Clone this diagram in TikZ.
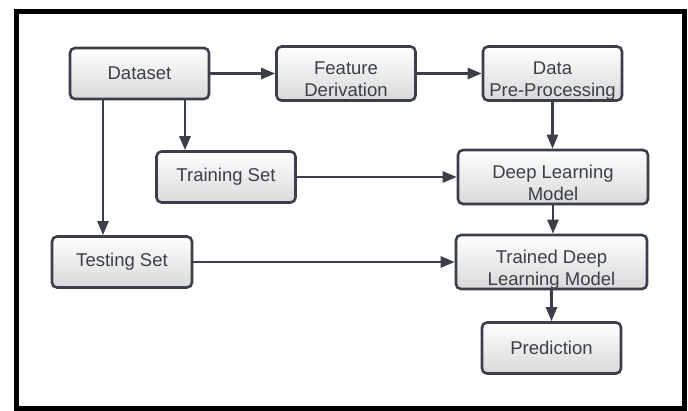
\documentclass[tikz,border=0pt]{standalone}
\usepackage{fontspec}
\setmainfont{Liberation Sans}
\usepackage{xcolor}
\usepackage{tikz}
\usetikzlibrary{arrows.meta, positioning}

\definecolor{ink}{HTML}{3A3F48}

\begin{document}
\begin{tikzpicture}[
  x=1pt, y=-1pt,
  font=\fontsize{18.5}{22}\selectfont, >={Triangle[length=14pt, width=11pt]},
  block/.style={draw=ink, line width=2.6pt, rounded corners=5pt, text=ink,
                top color=white, bottom color=black!15, align=center,
                inner sep=0pt, minimum height=51pt, minimum width=139pt},
  twoline/.style={text height=50pt, text depth=4pt},
  ar/.style={->, line width=2.6pt, ink},
]
\useasboundingbox (0,0) rectangle (688,410);
\draw[line width=5pt] (16.5,11.5) rectangle (684.5,408);

\node[block] (ds)  at (139.5,73.5) {Dataset};
\node[block, twoline] (fd)  at (346,73.5)   {Feature\\Derivation};
\node[block, twoline] (dpp) at (552.5,73.5) {Data\\Pre-Processing};
\node[block] (trs) at (226,177)    {Training Set};
\node[block, twoline, minimum width=190pt] (dl) at (553,177) {Deep Learning\\Model};
\node[block, minimum width=140pt] (tes) at (122,262) {Testing Set};
\node[block, twoline, minimum width=191pt] (tdl) at (551.5,262) {Trained Deep\\Learning Model};
\node[block] (pr)  at (551.5,348)  {Prediction};

\draw[ar] (ds) -- (fd); \draw[ar] (fd) -- (dpp);
\draw[ar] ([xshift=45.5pt]ds.south) -- ([xshift=45.5pt]ds.south |- trs.north);
\draw[ar] ([xshift=-36.5pt]ds.south) -- ([xshift=-36.5pt]ds.south |- tes.north);
\draw[ar] (dpp) -- (dpp.south |- dl.north);
\draw[ar] (trs) -- (dl); \draw[ar] (tes) -- (tdl);
\draw[ar] (dl) -- (dl.south |- tdl.north);
\draw[ar] (tdl) -- (pr);
\end{tikzpicture}
\end{document}
